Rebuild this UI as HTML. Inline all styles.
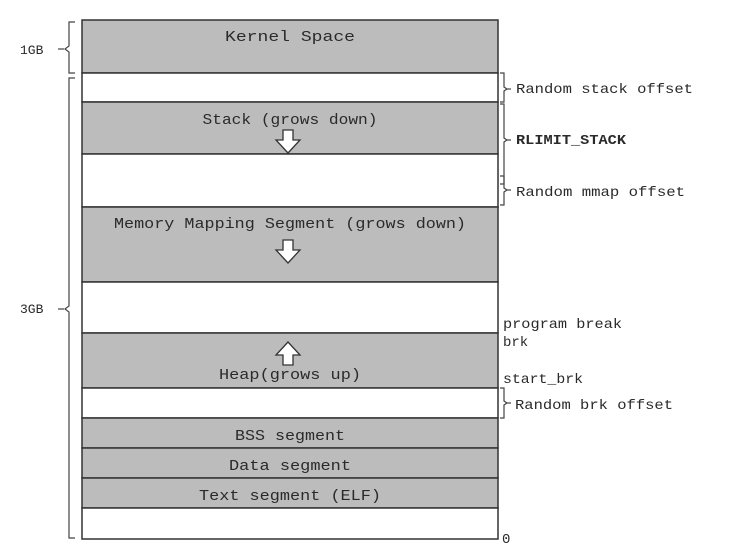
<!DOCTYPE html>
<html><head><meta charset="utf-8"><style>
html,body{margin:0;padding:0;background:#fff;}
svg{display:block;}
text{font-family:"Liberation Mono","DejaVu Sans Mono",monospace;fill:#2a2a2a;}
</style></head><body>
<svg width="743" height="553" viewBox="0 0 743 553" xmlns="http://www.w3.org/2000/svg">
<g stroke="#333" stroke-width="1.5">
<rect x="82" y="20" width="416" height="53" fill="#bcbcbc"/>
<rect x="82" y="73" width="416" height="29" fill="#fff"/>
<rect x="82" y="102" width="416" height="52" fill="#bcbcbc"/>
<rect x="82" y="154" width="416" height="53" fill="#fff"/>
<rect x="82" y="207" width="416" height="75" fill="#bcbcbc"/>
<rect x="82" y="282" width="416" height="51" fill="#fff"/>
<rect x="82" y="333" width="416" height="55" fill="#bcbcbc"/>
<rect x="82" y="388" width="416" height="30" fill="#fff"/>
<rect x="82" y="418" width="416" height="30" fill="#bcbcbc"/>
<rect x="82" y="448" width="416" height="30" fill="#bcbcbc"/>
<rect x="82" y="478" width="416" height="30" fill="#bcbcbc"/>
<rect x="82" y="508" width="416" height="31" fill="#fff"/>
</g>
<g fill="#fff" stroke="#333" stroke-width="1.3">
<path d="M283,130 h10 v10 h7 l-12,13 l-12,-13 h7 z"/>
<path d="M283,240 h10 v10 h7 l-12,13 l-12,-13 h7 z"/>
<path d="M283,365 h10 v-10 h7 l-12,-13 l-12,13 h7 z"/>
</g>
<g font-size="15" text-anchor="middle">
<text x="290" y="41" textLength="130" lengthAdjust="spacingAndGlyphs">Kernel Space</text>
<text x="290" y="124" textLength="175" lengthAdjust="spacingAndGlyphs">Stack (grows down)</text>
<text x="290" y="228" textLength="352" lengthAdjust="spacingAndGlyphs">Memory Mapping Segment (grows down)</text>
<text x="290" y="379" textLength="142" lengthAdjust="spacingAndGlyphs">Heap(grows up)</text>
<text x="290" y="440" textLength="110" lengthAdjust="spacingAndGlyphs">BSS segment</text>
<text x="290" y="470" textLength="122" lengthAdjust="spacingAndGlyphs">Data segment</text>
<text x="290" y="500" textLength="182" lengthAdjust="spacingAndGlyphs">Text segment (ELF)</text>
</g>
<g fill="none" stroke="#444" stroke-width="1.2">
<path d="M75,22 h-6 v24 l-4,3 l4,3 v21 h6"/>
<path d="M75,78 h-6 v228 l-4,3 l4,3 v226 h6"/>
<path d="M58,49 h6"/><path d="M58,309 h6"/>
<path d="M500,73 h4 v14 l3,2 l-3,2 v11 h-4"/>
<path d="M500,104 h4 v34 l3,2 l-3,2 v42 h-4"/>
<path d="M500,176 h4 v12 l3,2 l-3,2 v13 h-4"/>
<path d="M500,388 h4 v13 l3,2 l-3,2 v13 h-4"/>
<path d="M507,89 h4"/><path d="M507,140 h4"/><path d="M507,190 h4"/><path d="M507,403 h4"/>
</g>
<g font-size="14">
<text x="20" y="54" font-size="13">1GB</text>
<text x="20" y="313" font-size="13">3GB</text>
<text x="516" y="93" textLength="177" lengthAdjust="spacingAndGlyphs">Random stack offset</text>
<text x="516" y="144" font-weight="bold" textLength="110" lengthAdjust="spacingAndGlyphs">RLIMIT_STACK</text>
<text x="516" y="196" textLength="169" lengthAdjust="spacingAndGlyphs">Random mmap offset</text>
<text x="503" y="328" textLength="119" lengthAdjust="spacingAndGlyphs">program break</text>
<text x="503" y="346">brk</text>
<text x="503" y="383" textLength="80" lengthAdjust="spacingAndGlyphs">start_brk</text>
<text x="515" y="409" textLength="158" lengthAdjust="spacingAndGlyphs">Random brk offset</text>
<text x="502" y="543">0</text>
</g>
</svg>
</body></html>
